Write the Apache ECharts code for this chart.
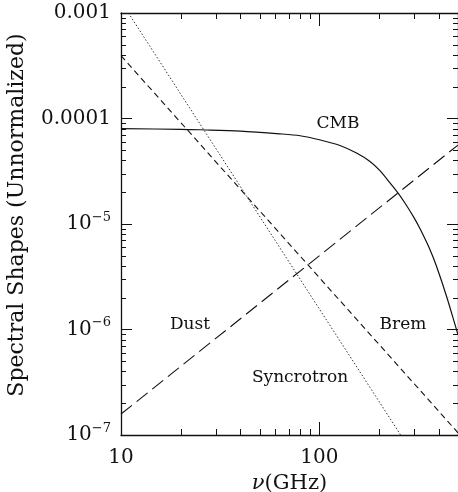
<!DOCTYPE html>
<html>
<head>
<meta charset="utf-8">
<script src="https://cdn.jsdelivr.net/npm/echarts@6/dist/echarts.min.js"></script>
<style>
  html, body { margin: 0; padding: 0; background: #fff; }
  #wrap { position: relative; width: 458px; height: 492px; }
  #main { width: 458px; height: 492px; }
  #ticks { position: absolute; left: 0; top: 0; pointer-events: none; }
</style>
</head>
<body>
<div id="wrap">
  <div id="main"></div>
  <canvas id="ticks" width="458" height="492"></canvas>
</div>
<script>
// frequencies (GHz) and shapes
const cmbFreq = [10, 20, 25, 40, 63, 80, 100, 127, 154, 180, 202, 227, 250, 270, 300, 320, 360, 390, 440, 492, 500];
const cmbVals = [8.0e-5, 7.9e-5, 7.82e-5, 7.6e-5, 7.16e-5, 6.86e-5, 6.29e-5, 5.55e-5, 4.7e-5, 3.91e-5, 3.2e-5,
  2.45e-5, 1.95e-5, 1.58e-5, 1.15e-5, 9.2e-6, 5.8e-6, 3.95e-6, 2.0e-6, 9.9e-7, 9.0e-7];
const dustFreq = [10, 500];
const dustVals = [1.58e-7, 5.6e-5];
const bremFreq = [10, 500];
const bremVals = [3.94e-4, 1.05e-7];
const syncFreq = [10.9, 257];
const syncVals = [1e-3, 1e-7];

const xMajor = [10, 100];
const xMinor = [20, 30, 40, 50, 60, 70, 80, 90, 200, 300, 400];
const yMajor = [1e-7, 1e-6, 1e-5, 1e-4, 1e-3];
const yMinor = [];
[1e-7, 1e-6, 1e-5, 1e-4].forEach(function (d) {
  for (let m = 2; m <= 9; m++) yMinor.push(m * d);
});

const FONT = 'DejaVu Serif';
const ink = '#111';
const X_MIN = 10, X_MAX = 500, Y_MIN = 1e-7, Y_MAX = 1e-3;

function pairs(xs, ys) {
  return xs.map(function (x, i) { return [x, ys[i]]; });
}

function yFmt(v) {
  const e = Math.round(Math.log10(v));
  if (e === -3) return '{b|0.001}';
  if (e === -4) return '{b|0.0001}';
  return '{b|10}{s|\u2212' + (-e) + '}';
}

function xAxisDef(pos, main) {
  return {
    type: 'log', logBase: 10, min: X_MIN, max: X_MAX, position: pos,
    axisLine: { show: true, lineStyle: { color: ink, width: 1.3 } },
    axisTick: { show: false },
    minorTick: { show: false },
    splitLine: { show: false },
    axisLabel: {
      show: main, customValues: xMajor, margin: 13,
      fontFamily: FONT, fontSize: 20, color: ink
    }
  };
}
function yAxisDef(pos, main) {
  return {
    type: 'log', logBase: 10, min: Y_MIN, max: Y_MAX, position: pos,
    axisLine: { show: true, lineStyle: { color: ink, width: 1.3 } },
    axisTick: { show: false },
    minorTick: { show: false },
    splitLine: { show: false },
    axisLabel: {
      show: main, customValues: yMajor, margin: 10,
      formatter: yFmt,
      rich: {
        b: { fontFamily: FONT, fontSize: 20, color: ink, lineHeight: 26 },
        s: { fontFamily: FONT, fontSize: 13, color: ink, lineHeight: 13, verticalAlign: 'top' }
      }
    }
  };
}

const chart = echarts.init(document.getElementById('main'), null, { renderer: 'canvas' });

const option = {
  animation: false,
  backgroundColor: '#fff',
  grid: {
    left: 121, right: 0, top: 13, bottom: 57,
    outerBoundsMode: 'none', containLabel: false
  },
  xAxis: [
    Object.assign(xAxisDef('bottom', true), {
      name: '{i|\u03bd}(GHz)', nameLocation: 'middle', nameGap: 37,
      nameTextStyle: {
        fontFamily: FONT, fontSize: 21, color: ink,
        rich: { i: { fontFamily: FONT, fontStyle: 'italic', fontSize: 21, color: ink } }
      }
    }),
    xAxisDef('top', false)
  ],
  yAxis: [
    yAxisDef('left', true),
    yAxisDef('right', false)
  ],
  graphic: [
    {
      type: 'text', x: 17, y: 215, rotation: Math.PI / 2,
      style: { text: 'Spectral Shapes (Unnormalized)', fontFamily: FONT, fontSize: 22, fill: ink, align: 'center', verticalAlign: 'middle' }
    },
    { type: 'text', x: 338, y: 124, style: { text: 'CMB', fontFamily: FONT, fontSize: 17, fill: ink, align: 'center', verticalAlign: 'middle' } },
    { type: 'text', x: 190, y: 325, style: { text: 'Dust', fontFamily: FONT, fontSize: 17, fill: ink, align: 'center', verticalAlign: 'middle' } },
    { type: 'text', x: 403, y: 325, style: { text: 'Brem', fontFamily: FONT, fontSize: 17, fill: ink, align: 'center', verticalAlign: 'middle' } },
    { type: 'text', x: 300, y: 378, style: { text: 'Syncrotron', fontFamily: FONT, fontSize: 17, fill: ink, align: 'center', verticalAlign: 'middle' } }
  ],
  series: [
    {
      name: 'CMB', type: 'line', data: pairs(cmbFreq, cmbVals), smooth: 0.3,
      showSymbol: false, lineStyle: { color: ink, width: 1.2, type: 'solid' }
    },
    {
      name: 'Dust', type: 'line', data: pairs(dustFreq, dustVals),
      showSymbol: false, lineStyle: { color: ink, width: 1.1, type: [14, 6] }
    },
    {
      name: 'Brem', type: 'line', data: pairs(bremFreq, bremVals),
      showSymbol: false, lineStyle: { color: ink, width: 1.1, type: [6, 4] }
    },
    {
      name: 'Syncrotron', type: 'line', data: pairs(syncFreq, syncVals),
      showSymbol: false, lineStyle: { color: '#333', width: 1, type: [1.5, 2] }
    }
  ]
};

chart.setOption(option);

// inward log ticks on all four sides, positions taken from the chart's scales
const G = { gridIndex: 0 };
const lo = chart.convertToPixel(G, [X_MIN, Y_MIN]);
const hi = chart.convertToPixel(G, [X_MAX, Y_MAX]);
const ctx = document.getElementById('ticks').getContext('2d');
ctx.strokeStyle = ink;
ctx.lineWidth = 1;
ctx.beginPath();
function xTick(v, len) {
  const p = Math.round(chart.convertToPixel(G, [v, Y_MIN])[0]) + 0.5;
  ctx.moveTo(p, lo[1]); ctx.lineTo(p, lo[1] - len);
  ctx.moveTo(p, hi[1]); ctx.lineTo(p, hi[1] + len);
}
function yTick(v, len) {
  const p = Math.round(chart.convertToPixel(G, [X_MIN, v])[1]) + 0.5;
  ctx.moveTo(lo[0], p); ctx.lineTo(lo[0] + len, p);
  ctx.moveTo(hi[0], p); ctx.lineTo(hi[0] - len, p);
}
xMajor.forEach(function (v) { xTick(v, 13); });
xMinor.forEach(function (v) { xTick(v, 6); });
yMajor.forEach(function (v) { yTick(v, 11); });
yMinor.forEach(function (v) { yTick(v, 5); });
ctx.stroke();
</script>
</body>
</html>
